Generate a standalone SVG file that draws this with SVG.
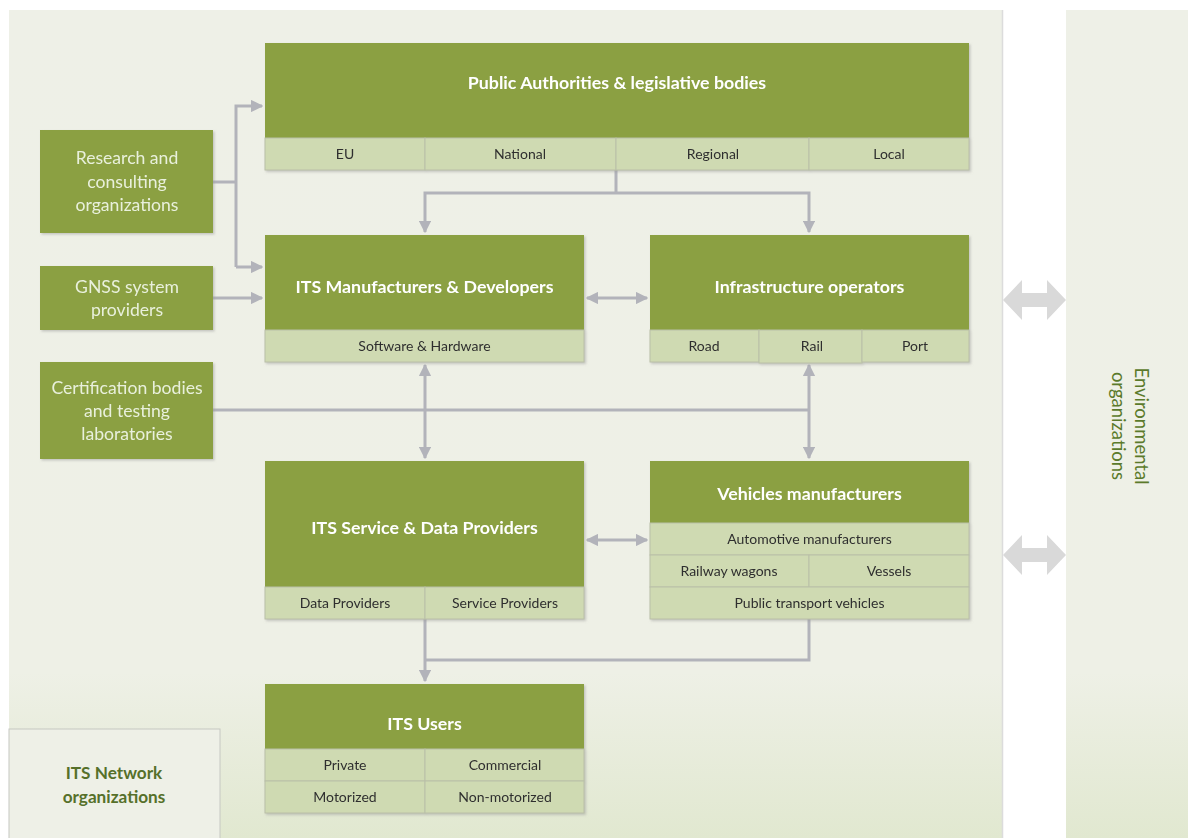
<svg xmlns="http://www.w3.org/2000/svg" width="1188" height="838" viewBox="0 0 1188 838">
  <defs>
    <linearGradient id="bgGrad" x1="0" y1="0" x2="0" y2="1">
      <stop offset="0" stop-color="#eef0e7"/>
      <stop offset="0.8" stop-color="#eef0e6"/>
      <stop offset="1" stop-color="#e1e8d0"/>
    </linearGradient>
    <marker id="arrow" viewBox="0 0 10 10" refX="9" refY="5" markerWidth="4.2" markerHeight="4.2" orient="auto-start-reverse" markerUnits="strokeWidth">
      <path d="M0,0 L10,5 L0,10 z" fill="#b2b3ba"/>
    </marker>
    <filter id="shadow" x="-5%" y="-5%" width="110%" height="115%">
      <feDropShadow dx="1.5" dy="1.5" stdDeviation="0.8" flood-color="#9a9a9a" flood-opacity="0.5"/>
    </filter>
  </defs>
  <style>
    .head { fill: #8ba043; }
    .cell { fill: #cfdab2; stroke: #babfa8; stroke-width: 1; }
    .title { font-family: Lato, "Liberation Sans", sans-serif; font-weight: bold; font-size: 17.8px; fill: #ffffff; text-anchor: middle; }
    .sub { font-family: Lato, "Liberation Sans", sans-serif; font-size: 14px; fill: #2f2f2f; text-anchor: middle; }
    .side { font-family: Lato, "Liberation Sans", sans-serif; font-size: 17.6px; fill: #e9f0dc; text-anchor: middle; }
    .org { font-family: Lato, "Liberation Sans", sans-serif; font-size: 18.5px; fill: #5b7a2b; text-anchor: middle; }
    .net { font-family: Lato, "Liberation Sans", sans-serif; font-weight: bold; font-size: 17.2px; fill: #56702a; text-anchor: middle; }
    .line { fill: none; stroke: #b2b3ba; stroke-width: 3; }
    .big { fill: #d9d9d9; }
  </style>

  <!-- panels -->
  <rect x="0" y="0" width="1188" height="838" fill="#ffffff"/>
  <rect x="9" y="10" width="993" height="828" fill="url(#bgGrad)"/>
  <line x1="1002.5" y1="10" x2="1002.5" y2="838" stroke="#dcdcdc" stroke-width="1.5"/>
  <rect x="1066" y="10" width="122" height="828" fill="url(#bgGrad)"/>

  <!-- environmental link arrows -->
  <g id="env-arrows">
    <path class="big" d="M1003,300 L1022,280 L1022,293 L1047,293 L1047,280 L1066,300 L1047,320 L1047,307 L1022,307 L1022,320 z"/>
    <path class="big" d="M1003,555 L1022,535 L1022,548 L1047,548 L1047,535 L1066,555 L1047,575 L1047,562 L1022,562 L1022,575 z"/>
  </g>

  <g id="environmental">
    <text class="org" transform="translate(1135,426) rotate(90)">Environmental</text>
    <text class="org" transform="translate(1112,426) rotate(90)">organizations</text>
  </g>

  <!-- connectors -->
  <g id="connectors">
    <path class="line" d="M213,182 L236,182"/>
    <path class="line" d="M236,267 L236,106 L262,106" marker-end="url(#arrow)"/>
    <path class="line" d="M236,267 L262,267" marker-end="url(#arrow)"/>
    <path class="line" d="M213,298 L262,298" marker-end="url(#arrow)"/>
    <path class="line" d="M616,170 L616,193"/>
    <path class="line" d="M616,193 L425,193 L425,232" marker-end="url(#arrow)"/>
    <path class="line" d="M616,193 L809,193 L809,232" marker-end="url(#arrow)"/>
    <path class="line" d="M587,298 L647,298" marker-start="url(#arrow)" marker-end="url(#arrow)"/>
    <path class="line" d="M213,410 L809,410"/>
    <path class="line" d="M425,365 L425,458" marker-start="url(#arrow)" marker-end="url(#arrow)"/>
    <path class="line" d="M809,365 L809,458" marker-start="url(#arrow)" marker-end="url(#arrow)"/>
    <path class="line" d="M587,540 L647,540" marker-start="url(#arrow)" marker-end="url(#arrow)"/>
    <path class="line" d="M425,619 L425,681" marker-end="url(#arrow)"/>
    <path class="line" d="M425,660 L809,660 L809,619"/>
  </g>

  <!-- Public Authorities -->
  <g id="public-authorities" filter="url(#shadow)">
    <rect class="head" x="265" y="43" width="704" height="95"/>
    <rect class="cell" x="265" y="138" width="160" height="32"/>
    <rect class="cell" x="425" y="138" width="191" height="32"/>
    <rect class="cell" x="616" y="138" width="193" height="32"/>
    <rect class="cell" x="809" y="138" width="160" height="32"/>
    <text class="title" x="617" y="89">Public Authorities &amp; legislative bodies</text>
    <text class="sub" x="345" y="159">EU</text>
    <text class="sub" x="520" y="159">National</text>
    <text class="sub" x="713" y="159">Regional</text>
    <text class="sub" x="889" y="159">Local</text>
  </g>

  <!-- left-hand organisations -->
  <g id="research" filter="url(#shadow)">
    <rect class="head" x="40" y="130" width="173" height="103"/>
    <text class="side" x="127" y="164">Research and</text>
    <text class="side" x="127" y="188">consulting</text>
    <text class="side" x="127" y="211">organizations</text>
  </g>
  <g id="gnss" filter="url(#shadow)">
    <rect class="head" x="40" y="266" width="173" height="64"/>
    <text class="side" x="127" y="293">GNSS system</text>
    <text class="side" x="127" y="316">providers</text>
  </g>
  <g id="certification" filter="url(#shadow)">
    <rect class="head" x="40" y="362" width="173" height="97"/>
    <text class="side" x="127" y="394">Certification bodies</text>
    <text class="side" x="127" y="417">and testing</text>
    <text class="side" x="127" y="440">laboratories</text>
  </g>

  <!-- ITS Manufacturers -->
  <g id="its-manufacturers" filter="url(#shadow)">
    <rect class="head" x="265" y="235" width="319" height="95"/>
    <rect class="cell" x="265" y="330" width="319" height="32"/>
    <text class="title" x="424.5" y="293">ITS Manufacturers &amp; Developers</text>
    <text class="sub" x="424.5" y="351">Software &amp; Hardware</text>
  </g>

  <!-- Infrastructure operators -->
  <g id="infrastructure" filter="url(#shadow)">
    <rect class="head" x="650" y="235" width="319" height="95"/>
    <rect class="cell" x="650" y="330" width="109" height="32"/>
    <rect class="cell" x="759" y="330" width="103" height="33"/>
    <rect class="cell" x="862" y="330" width="107" height="32"/>
    <text class="title" x="809.5" y="293">Infrastructure operators</text>
    <text class="sub" x="704" y="351">Road</text>
    <text class="sub" x="812" y="351">Rail</text>
    <text class="sub" x="915" y="351">Port</text>
  </g>

  <!-- ITS Service & Data Providers -->
  <g id="its-service" filter="url(#shadow)">
    <rect class="head" x="265" y="461" width="319" height="126"/>
    <rect class="cell" x="265" y="587" width="160" height="32"/>
    <rect class="cell" x="425" y="587" width="159" height="32"/>
    <text class="title" x="424.5" y="534">ITS Service &amp; Data Providers</text>
    <text class="sub" x="345" y="608">Data Providers</text>
    <text class="sub" x="505" y="608">Service Providers</text>
  </g>

  <!-- Vehicles manufacturers -->
  <g id="vehicles" filter="url(#shadow)">
    <rect class="head" x="650" y="461" width="319" height="62"/>
    <rect class="cell" x="650" y="523" width="319" height="32"/>
    <rect class="cell" x="650" y="555" width="159" height="32"/>
    <rect class="cell" x="809" y="555" width="160" height="32"/>
    <rect class="cell" x="650" y="587" width="319" height="32"/>
    <text class="title" x="809.5" y="500">Vehicles manufacturers</text>
    <text class="sub" x="809.5" y="544">Automotive manufacturers</text>
    <text class="sub" x="729" y="576">Railway wagons</text>
    <text class="sub" x="889" y="576">Vessels</text>
    <text class="sub" x="809.5" y="608">Public transport vehicles</text>
  </g>

  <!-- ITS Users -->
  <g id="its-users" filter="url(#shadow)">
    <rect class="head" x="265" y="684" width="319" height="65"/>
    <rect class="cell" x="265" y="749" width="160" height="32"/>
    <rect class="cell" x="425" y="749" width="159" height="32"/>
    <rect class="cell" x="265" y="781" width="160" height="32"/>
    <rect class="cell" x="425" y="781" width="159" height="32"/>
    <text class="title" x="424.5" y="730">ITS Users</text>
    <text class="sub" x="345" y="770">Private</text>
    <text class="sub" x="505" y="770">Commercial</text>
    <text class="sub" x="345" y="802">Motorized</text>
    <text class="sub" x="505" y="802">Non-motorized</text>
  </g>

  <!-- ITS Network organizations -->
  <g id="its-network">
    <rect x="9" y="729" width="211" height="112" fill="#eef0e7" stroke="#c6c8c2" stroke-width="1"/>
    <text class="net" x="114" y="779">ITS Network</text>
    <text class="net" x="114" y="803">organizations</text>
  </g>
</svg>
